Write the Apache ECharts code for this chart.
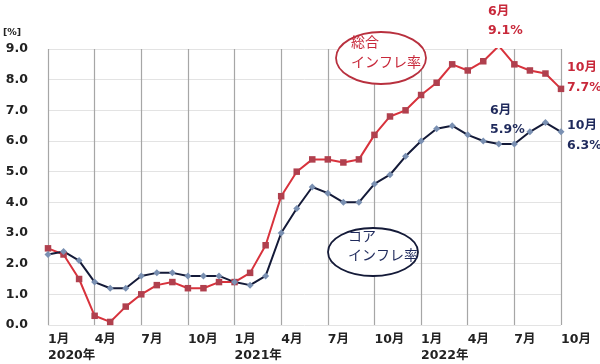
<!DOCTYPE html>
<html>
<head>
<meta charset="utf-8">
<script src="https://cdn.jsdelivr.net/npm/echarts@6/dist/echarts.min.js"></script>
<style>html,body{margin:0;padding:0;background:#fff}#c{width:600px;height:364px}</style>
</head>
<body>
<div id="c"></div>
<script>
const months = ["1","2","3","4","5","6","7","8","9","10","11","12"];
const years = ["2020","2021","2022"];
const categories = [];
for (let y = 0; y < 3; y++) for (let m = 0; m < 12; m++) { if (y === 2 && m > 9) break; categories.push(years[y] + "-" + months[m]); }
const headline = [2.5,2.3,1.5,0.3,0.1,0.6,1.0,1.3,1.4,1.2,1.2,1.4,
                  1.4,1.7,2.6,4.2,5.0,5.4,5.4,5.3,5.4,6.2,6.8,7.0,
                  7.5,7.9,8.5,8.3,8.6,9.1,8.5,8.3,8.2,7.7];
const core = [2.3,2.4,2.1,1.4,1.2,1.2,1.6,1.7,1.7,1.6,1.6,1.6,
              1.4,1.3,1.6,3.0,3.8,4.5,4.3,4.0,4.0,4.6,4.9,5.5,
              6.0,6.4,6.5,6.2,6.0,5.9,5.9,6.3,6.6,6.3];
const yTicks = [0,1,2,3,4,5,6,7,8,9];

const RED = '#c8283a', NAVY = '#1f2a5c';
const FONT = "'DejaVu Sans','Noto Sans CJK JP',sans-serif";
const chart = echarts.init(document.getElementById('c'));
chart.setOption({
  animation: false,
  grid: {left: 45, right: 39, top: 49, bottom: 35},
  xAxis: {
    type: 'category', data: categories, boundaryGap: false,
    axisLine: {show: false}, axisTick: {show: false},
    axisLabel: {
      interval: 0, hideOverlap: false,
      align: 'left', margin: 7, color: '#222', fontSize: 12.5, fontWeight: 'bold',
      fontFamily: FONT, lineHeight: 16,
      formatter: function (v, i) {
        if (i % 3 !== 0) return '';
        const [y, m] = v.split('-');
        return m === '1' ? m + '月\n' + y + '年' : m + '月';
      }
    },
    splitLine: {show: true, interval: 2, lineStyle: {color: '#a6a6a6', width: 1.2}}
  },
  yAxis: {
    type: 'value', min: yTicks[0], max: yTicks[yTicks.length - 1], interval: 1,
    axisLine: {show: false}, axisTick: {show: false},
    axisLabel: {margin: 20, color: '#222', fontSize: 12.5, fontWeight: 'bold', fontFamily: FONT,
      formatter: v => v.toFixed(1)},
    splitLine: {lineStyle: {color: '#e3e3e3', width: 1}},
    name: '[%]', nameLocation: 'end', nameGap: 12,
    nameTextStyle: {align: 'left', padding: [0, 0, 0, -45], color: '#222', fontSize: 9.5, fontWeight: 'bold', fontFamily: FONT}
  },
  series: [
    {type: 'line', data: headline, symbol: 'rect', symbolSize: 6.5,
     lineStyle: {color: '#d8323c', width: 2}, itemStyle: {color: '#b0404e'}, z: 3},
    {type: 'line', data: core, symbol: 'diamond', symbolSize: 7,
     lineStyle: {color: '#141a38', width: 2}, itemStyle: {color: '#7a90b2'}, z: 3}
  ],
  graphic: [
    {type: 'ellipse', shape: {cx: 381, cy: 58, rx: 45, ry: 26}, style: {fill: '#fff', stroke: '#b8303e', lineWidth: 1.8}, z: 10},
    {type: 'text', left: 351, top: 35, style: {text: '総合', fill: RED, font: "14px 'Noto Sans CJK JP'"}, z: 11},
    {type: 'text', left: 351, top: 55, style: {text: 'インフレ率', fill: RED, font: "14px 'Noto Sans CJK JP'"}, z: 11},
    {type: 'ellipse', shape: {cx: 373, cy: 252, rx: 45, ry: 24}, style: {fill: '#fff', stroke: '#141a38', lineWidth: 1.8}, z: 10},
    {type: 'text', left: 348, top: 229, style: {text: 'コア', fill: NAVY, font: "14px 'Noto Sans CJK JP'"}, z: 11},
    {type: 'text', left: 348, top: 248, style: {text: 'インフレ率', fill: NAVY, font: "14px 'Noto Sans CJK JP'"}, z: 11},
    {type: 'text', left: 488, top: 5, style: {text: '6月', fill: RED, font: "bold 12.5px " + FONT}, z: 11},
    {type: 'text', left: 488, top: 24, style: {text: '9.1%', fill: RED, font: "bold 12.5px " + FONT}, z: 11},
    {type: 'text', left: 567, top: 61, style: {text: '10月', fill: RED, font: "bold 12.5px " + FONT}, z: 11},
    {type: 'text', left: 567, top: 81, style: {text: '7.7%', fill: RED, font: "bold 12.5px " + FONT}, z: 11},
    {type: 'text', left: 490, top: 104, style: {text: '6月', fill: NAVY, font: "bold 12.5px " + FONT}, z: 11},
    {type: 'text', left: 490, top: 123, style: {text: '5.9%', fill: NAVY, font: "bold 12.5px " + FONT}, z: 11},
    {type: 'text', left: 567, top: 119, style: {text: '10月', fill: NAVY, font: "bold 12.5px " + FONT}, z: 11},
    {type: 'text', left: 567, top: 139, style: {text: '6.3%', fill: NAVY, font: "bold 12.5px " + FONT}, z: 11}
  ]
});
</script>
</body>
</html>
